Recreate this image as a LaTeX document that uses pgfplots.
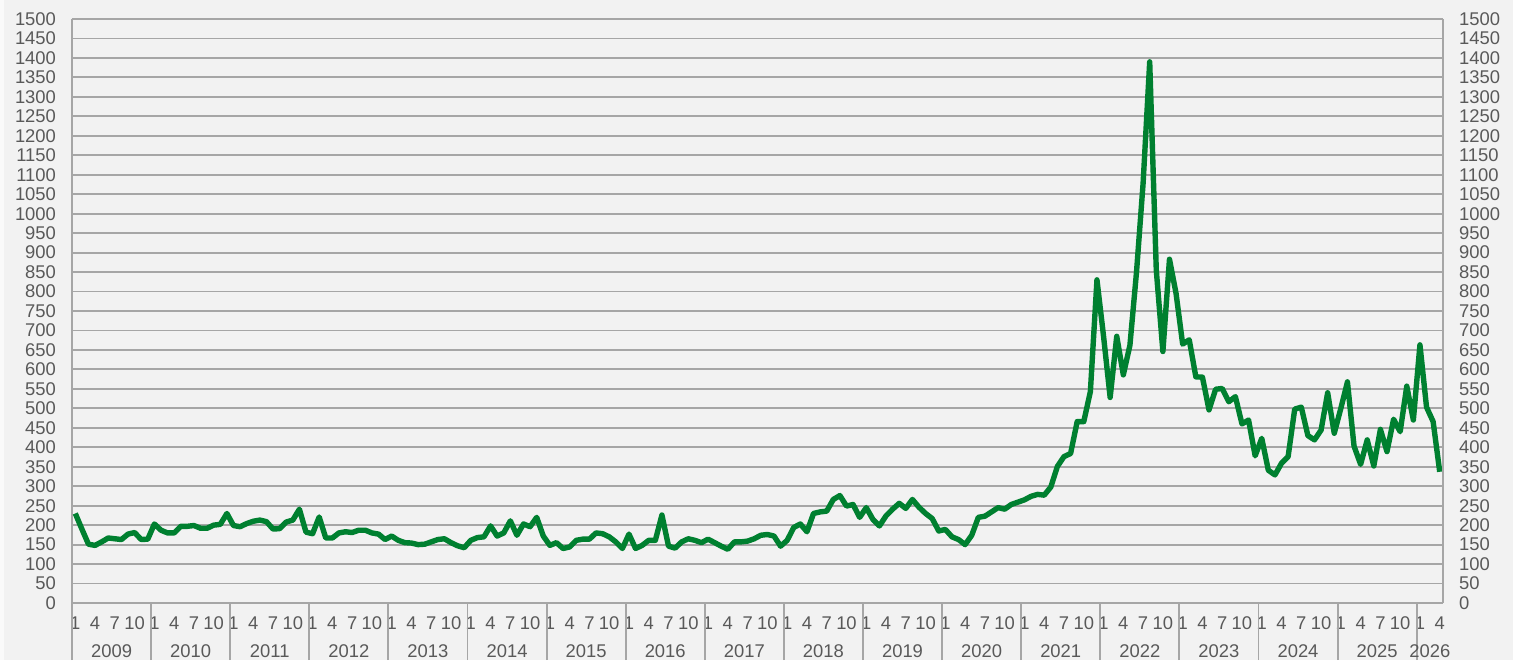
\documentclass[border=0pt]{standalone}
\usepackage{fontspec}
\setmainfont{Liberation Sans}
\usepackage{pgfplots}
\pgfplotsset{compat=1.18}

\definecolor{bg}{RGB}{242,242,242}
\definecolor{gridgray}{RGB}{166,166,166}
\definecolor{txtgray}{RGB}{89,89,89}
\definecolor{linegreen}{RGB}{0,128,48}

% monthly values, Jan 2009 (0) to Apr 2026 (207)
\pgfplotstableread{
m v
0 230
1 190
2 151
3 148
4 157
5 167
6 165
7 163
8 177
9 181
10 163
11 164
12 203
13 187
14 180
15 180
16 197
17 197
18 199
19 192
20 192
21 200
22 202
23 230
24 199
25 196
26 204
27 210
28 213
29 209
30 190
31 191
32 208
33 213
34 241
35 182
36 178
37 221
38 167
39 167
40 180
41 183
42 181
43 187
44 187
45 180
46 177
47 163
48 172
49 161
50 155
51 154
52 150
53 151
54 157
55 163
56 165
57 155
58 147
59 142
60 161
61 168
62 170
63 198
64 172
65 180
66 211
67 174
68 203
69 196
70 220
71 172
72 148
73 155
74 140
75 144
76 161
77 164
78 164
79 180
80 178
81 170
82 157
83 140
84 177
85 140
86 148
87 161
88 161
89 226
90 146
91 141
92 157
93 165
94 161
95 155
96 164
97 155
98 146
99 138
100 157
101 157
102 159
103 165
104 174
105 176
106 172
107 146
108 161
109 194
110 203
111 183
112 230
113 234
114 236
115 266
116 276
117 249
118 253
119 220
120 245
121 215
122 198
123 224
124 241
125 256
126 243
127 266
128 246
129 230
130 217
131 185
132 189
133 170
134 163
135 150
136 174
137 220
138 223
139 234
140 245
141 241
142 253
143 259
144 265
145 274
146 279
147 277
148 298
149 351
150 376
151 384
152 466
153 466
154 543
155 830
156 685
157 528
158 685
159 586
160 662
161 850
162 1078
163 1390
164 855
165 646
166 883
167 795
168 665
169 676
170 581
171 580
172 496
173 549
174 551
175 517
176 530
177 460
178 470
179 378
180 423
181 341
182 329
183 359
184 376
185 498
186 503
187 430
188 419
189 444
190 540
191 436
192 500
193 568
194 403
195 356
196 419
197 352
198 446
199 389
200 472
201 440
202 557
203 470
204 663
205 503
206 466
207 337
}\prices

\pgfplotsset{
  base/.style={
    at={(0,0)}, anchor=south west,
    scale only axis, width=685.5pt, height=292pt,
    xmin=-0.5, xmax=207.5, ymin=0, ymax=1500,
    ytick={0,50,...,1500},
    major tick length=0pt,
    tick label style={font=\fontsize{9.2}{10}\selectfont, text=txtgray},
    /pgf/number format/assume math mode=true,
    /pgf/number format/1000 sep={},
    axis line style={draw=gridgray, line width=0.95pt},
  },
}

\begin{document}
\begin{tikzpicture}
\fill[bg] (-36pt,-28.5pt) rectangle (720.5pt,301.5pt);
\fill[white!60!bg] (-36pt,-28.5pt) rectangle (-34pt,301.5pt);

\begin{axis}[
  base,
  separate axis lines,
  axis x line*=bottom, axis y line*=left,
  ymajorgrids,
  grid style={draw=gridgray, line width=0.95pt},
  yticklabel style={xshift=-4.5pt},
  xtick={0,3,...,207},
  xticklabels={1,4,7,10,1,4,7,10,1,4,7,10,1,4,7,10,1,4,7,10,1,4,7,10,
    1,4,7,10,1,4,7,10,1,4,7,10,1,4,7,10,1,4,7,10,1,4,7,10,
    1,4,7,10,1,4,7,10,1,4,7,10,1,4,7,10,1,4,7,10,1,4},
  xticklabel style={yshift=-3.5pt},
  extra x ticks={-0.5,11.5,...,207.5},
  extra x tick labels={},
  extra x tick style={major tick length=28.5pt, tick align=outside,
    tick style={draw=gridgray, line width=0.95pt}},
]
\addplot[linegreen, line width=2.7pt, line join=round] table[x=m, y=v] {\prices};
\end{axis}

\begin{axis}[
  base,
  separate axis lines,
  axis x line*=bottom, axis y line*=right,
  x axis line style={draw=none},
  yticklabel style={xshift=4.5pt},
  xtick={5.5,17.5,...,197.5,205.5},
  xticklabels={2009,2010,2011,2012,2013,2014,2015,2016,2017,2018,2019,
    2020,2021,2022,2023,2024,2025,2026},
  xticklabel style={yshift=-17.5pt},
]
\addplot[draw=none] coordinates {(0,0)};
\end{axis}

\pgfresetboundingbox
\path[use as bounding box] (-36pt,-28.5pt) rectangle (720.5pt,301.5pt);
\end{tikzpicture}
\end{document}
